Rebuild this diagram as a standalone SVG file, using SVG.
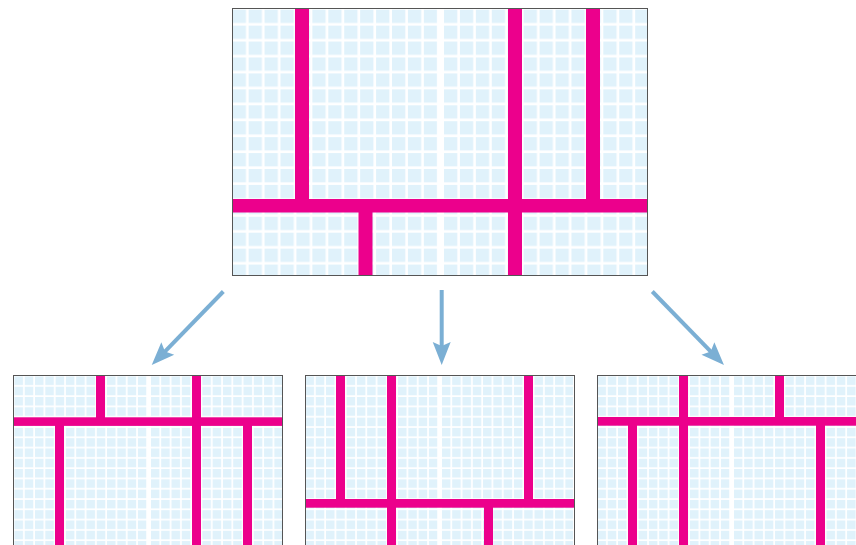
<svg xmlns="http://www.w3.org/2000/svg" xmlns:xlink="http://www.w3.org/1999/xlink" width="856" height="545" viewBox="0 0 856 545">
  <style>
    .bar { fill: #ec008c; }
    .frame { fill: none; stroke: #555555; stroke-width: 1; }
    .arrow { fill: none; stroke: #7bafd4; stroke-width: 4; marker-end: url(#head); }
  </style>
  <defs>
    <pattern id="cellsL" patternUnits="userSpaceOnUse" x="0.7" y="0.7" width="15.93" height="15.93">
      <rect x="0" y="0" width="13.3" height="13.3" fill="#e0f2fb"/>
    </pattern>
    <pattern id="cellsR" patternUnits="userSpaceOnUse" x="212" y="0.7" width="15.93" height="15.93">
      <rect x="0" y="0" width="13.3" height="13.3" fill="#e0f2fb"/>
    </pattern>
    <g id="grid">
      <rect x="0" y="0" width="415" height="266" fill="#ffffff"/>
      <rect x="0" y="0" width="205.2" height="266" fill="url(#cellsL)"/>
      <rect x="212" y="0" width="203" height="266" fill="url(#cellsR)"/>
    </g>
    <marker id="head" markerUnits="userSpaceOnUse" markerWidth="40" markerHeight="40" refX="0" refY="0" orient="auto" overflow="visible">
      <path d="M15,0 L-8,-9 L-4,0 L-8,9 Z" fill="#7bafd4"/>
    </marker>
  </defs>

  <g id="panel-top">
    <use href="#grid" xlink:href="#grid" transform="translate(232,9)"/>
    <rect class="bar" x="295" y="9" width="14" height="190"/>
    <rect class="bar" x="508" y="9" width="14" height="266"/>
    <rect class="bar" x="586" y="9" width="14" height="190"/>
    <rect class="bar" x="232" y="199" width="415" height="13.5"/>
    <rect class="bar" x="358.5" y="212" width="14" height="63"/>
    <rect class="frame" x="232.5" y="8.5" width="415" height="267"/>
  </g>

  <g id="panel-left">
    <use href="#grid" xlink:href="#grid" transform="translate(14,376) scale(0.6458)"/>
    <rect class="bar" x="96" y="376" width="9" height="42"/>
    <rect class="bar" x="192" y="376" width="9" height="170"/>
    <rect class="bar" x="14" y="417.3" width="268" height="8.6"/>
    <rect class="bar" x="55" y="425" width="9" height="121"/>
    <rect class="bar" x="243" y="425" width="9" height="121"/>
    <rect class="frame" x="13.5" y="375.5" width="269" height="200"/>
  </g>

  <g id="panel-middle">
    <use href="#grid" xlink:href="#grid" transform="translate(305,376) scale(0.6458)"/>
    <rect class="bar" x="336" y="376" width="9" height="124"/>
    <rect class="bar" x="387" y="376" width="9" height="170"/>
    <rect class="bar" x="524" y="376" width="9" height="124"/>
    <rect class="bar" x="305" y="499" width="269" height="8.7"/>
    <rect class="bar" x="484" y="507" width="9" height="39"/>
    <rect class="frame" x="305.5" y="375.5" width="269" height="200"/>
  </g>

  <g id="panel-right">
    <use href="#grid" xlink:href="#grid" transform="translate(597,376) scale(0.6458)"/>
    <rect class="bar" x="679" y="376" width="9" height="170"/>
    <rect class="bar" x="775" y="376" width="9" height="42"/>
    <rect class="bar" x="597" y="417" width="270" height="8.7"/>
    <rect class="bar" x="628" y="425" width="9" height="121"/>
    <rect class="bar" x="816" y="425" width="9" height="121"/>
    <rect class="frame" x="597.5" y="375.5" width="269" height="200"/>
  </g>

  <g id="connectors">
    <line class="arrow" x1="223.3" y1="291.5" x2="162.2" y2="354.3"/>
    <line class="arrow" x1="441.7" y1="290" x2="441.7" y2="350"/>
    <line class="arrow" x1="652.3" y1="291.5" x2="713.5" y2="354.3"/>
  </g>
</svg>
